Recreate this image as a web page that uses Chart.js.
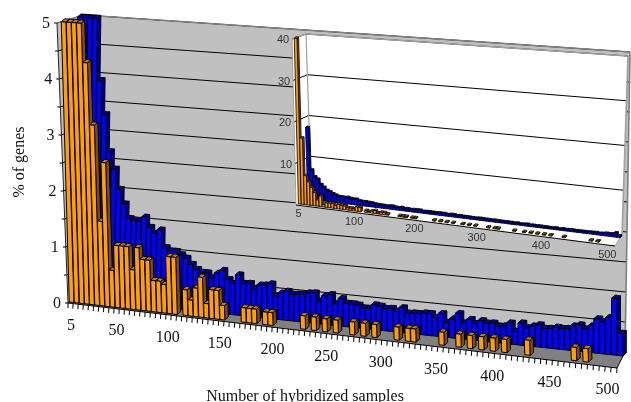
<!DOCTYPE html>
<html>
<head>
<meta charset="utf-8">
<style>
  html, body { margin: 0; padding: 0; background: #fff; }
  #wrap { position: relative; width: 631px; height: 402px; overflow: hidden; }
  canvas { position: absolute; left: 0; top: 0; }
</style>
<script src="https://cdn.jsdelivr.net/npm/chart.js@4"></script>
</head>
<body>
<div id="wrap">
  <canvas id="mainChart" width="631" height="402"></canvas>
  <canvas id="insetChart" width="631" height="402"></canvas>
</div>
<script>
const categories = [5,10,15,20,25,30,35,40,45,50,55,60,65,70,75,80,85,90,95,100,
  105,110,115,120,125,130,135,140,145,150,155,160,165,170,175,180,185,190,195,200,
  205,210,215,220,225,230,235,240,245,250,255,260,265,270,275,280,285,290,295,300,
  305,310,315,320,325,330,335,340,345,350,355,360,365,370,375,380,385,390,395,400,
  405,410,415,420,425,430,435,440,445,450,455,460,465,470,475,480,485,490,495,500];

const orange = [40,16,7,5.6,4.3,3.2,1.5,2.55,0.65,1.1,1.1,1.1,0.7,1.1,0.9,0.9,0.55,0.55,0.5,1.0,
  1.0,0,0.45,0.28,0.5,0.7,0.25,0.5,0.5,0.25,0,0,0,0.25,0.25,0.25,0,0.22,0.22,0,
  0,0,0,0,0.23,0,0.23,0,0.22,0,0.22,0,0,0.22,0,0.22,0,0.22,0,0,
  0,0.22,0,0.22,0.22,0,0,0,0,0.22,0,0,0.22,0,0.22,0,0.22,0,0.22,0,
  0.22,0,0,0,0.25,0,0,0,0,0,0,0,0.22,0,0.22,0,0,0,0,0];

const blue = [17.5,7.2,5.6,5.1,3.9,3.3,2.65,2.35,2.0,1.75,1.5,1.47,1.47,1.55,1.38,1.28,1.35,1.05,1.0,1.0,
  0.95,0.9,0.8,0.72,0.68,0.68,0.6,0.69,0.75,0.6,0.54,0.7,0.56,0.57,0.48,0.56,0.57,0.6,0.4,0.46,
  0.5,0.46,0.47,0.48,0.51,0.52,0.39,0.49,0.52,0.37,0.47,0.4,0.4,0.39,0.35,0.35,0.42,0.41,0.38,0.39,
  0.35,0.42,0.34,0.35,0.35,0.37,0.37,0.31,0.39,0.25,0.32,0.42,0.27,0.34,0.28,0.34,0.31,0.32,0.28,0.29,
  0.35,0.22,0.37,0.3,0.34,0.37,0.32,0.33,0.36,0.35,0.36,0.41,0.44,0.38,0.44,0.57,0.53,0.61,0.94,0.37];

const mainYLabels = [0,1,2,3,4,5];
const mainXLabels = [5,50,100,150,200,250,300,350,400,450,500];
const insetYLabels = [10,20,30,40];
const insetXLabels = [5,100,200,300,400,500];

// corners of the 3d box on screen
const mainBox = {
  fbl:[68,303], fbr:[617,368], ftl:[57,23], ftr:[606,62],
  bbl:[75,296], bbr:[625,352], btl:[84,15], btr:[630,52],
  wall:'#c0c0c0', side:'#c0c0c0', floor:'#808080', edge:'#808080',
  font:'16px "Liberation Serif"', textColor:'#111',
  xLab:[0.5,-7,22.5], yLab:[-11,1], ticks:true,
  barDepth:[3.5,-3], lineWidth:1
};
const insetBox = {
  fbl:[296,205], fbr:[615,246], ftl:[292,39], ftr:[620,66],
  bbl:[311.5,197], bbr:[622,235], btl:[306,34], btr:[628,56],
  wall:'#fff', side:'#fff', floor:'#fff', edge:'#a0a0a0',
  font:'11px "Liberation Sans"', textColor:'#333',
  xLab:[1,-7,9], yLab:[-9,1], ticks:false,
  barDepth:[1.6,-1.4], lineWidth:0.8
};

const perspective = 1.08;
const orangeDepth = 0.15;
const blueDepth = 0.75;

function mix(a, b, t) { return [a[0] + (b[0]-a[0])*t, a[1] + (b[1]-a[1])*t]; }

function project(box, u, h, d) {
  const t = u / (perspective - (perspective-1)*u);
  const front = mix(mix(box.fbl, box.fbr, t), mix(box.ftl, box.ftr, t), h);
  const back = mix(mix(box.bbl, box.bbr, t), mix(box.btl, box.btr, t), h);
  return mix(front, back, d);
}

function poly(ctx, pts, fill, stroke, lw) {
  ctx.beginPath();
  pts.forEach((p, i) => i ? ctx.lineTo(p[0], p[1]) : ctx.moveTo(p[0], p[1]));
  ctx.closePath();
  if (fill) { ctx.fillStyle = fill; ctx.fill(); }
  if (stroke) { ctx.strokeStyle = stroke; ctx.lineWidth = lw || 1; ctx.stroke(); }
}

function line(ctx, a, b, color, lw) {
  ctx.beginPath();
  ctx.moveTo(a[0], a[1]);
  ctx.lineTo(b[0], b[1]);
  ctx.strokeStyle = color;
  ctx.lineWidth = lw || 1;
  ctx.stroke();
}

const box3d = {
  id: 'box3d',
  beforeDatasetsDraw(chart, args, opts) {
    const ctx = chart.ctx, box = opts.box, yScale = chart.scales.y, xScale = chart.scales.x;
    const area = chart.chartArea;
    const level = v => (area.bottom - yScale.getPixelForValue(v)) / area.height;
    const pos = px => (px - area.left) / area.width;
    ctx.save();
    poly(ctx, [box.ftl, box.btl, box.bbl, box.fbl], box.side);
    poly(ctx, [box.btl, box.btr, box.bbr, box.bbl], box.wall);
    poly(ctx, [box.fbl, box.fbr, box.bbr, box.bbl], box.floor);

    yScale.ticks.forEach(tick => {
      const h = level(tick.value);
      if (h > 0.001) {
        line(ctx, project(box, 0, h, 0), project(box, 0, h, 1), '#000');
        line(ctx, project(box, 0, h, 1), project(box, 1, h, 1), '#000');
      }
    });

    line(ctx, box.btl, box.btr, box.edge, 1.6);
    line(ctx, box.btr, box.bbr, box.edge, 1.6);
    line(ctx, box.ftl, box.btl, box.edge, 1.6);
    line(ctx, box.btl, box.bbl, box.edge, 1.2);
    line(ctx, box.fbr, box.bbr, box.ticks ? '#000' : box.edge, 1);
    line(ctx, box.ftl, box.fbl, box.ticks ? '#222' : box.edge, 1);
    line(ctx, box.fbl, box.bbl, box.ticks ? '#000' : box.edge, 1);
    line(ctx, box.fbl, box.fbr, '#000', 1);

    if (box.ticks) {
      const half = (xScale.getPixelForValue(1) - xScale.getPixelForValue(0)) / 2;
      categories.forEach((c, i) => {
        const p = project(box, pos(xScale.getPixelForValue(i) + half), 0, 0);
        line(ctx, p, [p[0] - 0.3, p[1] + 5], '#000');
      });
      line(ctx, box.fbl, [box.fbl[0], box.fbl[1] + 5], '#000');
      yScale.ticks.forEach(tick => {
        const p = project(box, 0, level(tick.value), 0);
        line(ctx, p, [p[0] - 3, p[1]], '#000');
      });
    }

    ctx.font = box.font;
    ctx.fillStyle = box.textColor;
    ctx.textAlign = 'center';
    ctx.textBaseline = 'middle';
    opts.yLabels.forEach(v => {
      const p = project(box, 0, level(v), 0);
      ctx.fillText(String(v), p[0] + box.yLab[0], p[1] + box.yLab[1]);
    });
    opts.xLabels.forEach(v => {
      const u = pos(xScale.getPixelForValue(categories.indexOf(v)));
      const p = project(box, u, 0, 0);
      ctx.fillText(String(v), p[0] + box.xLab[0] + box.xLab[1]*u, p[1] + box.xLab[2]);
    });
    ctx.restore();
  },
  // bars: read x, y, base and width from the bar elements, then draw a prism
  beforeDatasetDraw(chart, args, opts) {
    const ctx = chart.ctx, box = opts.box, area = chart.chartArea;
    const ds = chart.data.datasets[args.index];
    const dx = box.barDepth[0], dy = box.barDepth[1];
    const back = p => [p[0] + dx, p[1] + dy];
    ctx.save();
    ctx.lineJoin = 'round';
    args.meta.data.forEach(bar => {
      const props = bar.getProps(['x', 'y', 'base', 'width'], true);
      if (props.base - props.y < 0.01) return;
      const ul = (props.x - props.width/2 - area.left) / area.width;
      const ur = (props.x + props.width/2 - area.left) / area.width;
      const hTop = (area.bottom - Math.max(props.y, area.top)) / area.height;
      const bl = project(box, ul, 0, ds.depth), br = project(box, ur, 0, ds.depth);
      const tl = project(box, ul, hTop, ds.depth), tr = project(box, ur, hTop, ds.depth);
      poly(ctx, [br, back(br), back(tr), tr], ds.sideColor, '#000', box.lineWidth);
      poly(ctx, [tl, tr, back(tr), back(tl)], ds.topColor, '#000', box.lineWidth);
      poly(ctx, [bl, br, tr, tl], ds.backgroundColor, '#000', box.lineWidth);
    });
    ctx.restore();
    return false;
  }
};

function buildDatasets() {
  return [
    { label: 'orange', data: orange, backgroundColor: '#ffa000', topColor: '#c98000', sideColor: '#805000', depth: orangeDepth, grouped: false, barPercentage: 0.92, categoryPercentage: 1 },
    { label: 'blue', data: blue, backgroundColor: '#0000ff', topColor: '#0000b0', sideColor: '#000080', depth: blueDepth, grouped: false, barPercentage: 0.92, categoryPercentage: 1 }
  ];
}

function buildOptions(box, yMax, yStep, yLabels, xLabels, titles) {
  return {
    responsive: false,
    animation: false,
    devicePixelRatio: 1,
    layout: { padding: titles ? { left: 12, right: 57, top: 21, bottom: -3 } : 0 },
    plugins: {
      legend: { display: false },
      tooltip: { enabled: false },
      box3d: { box: box, yLabels: yLabels, xLabels: xLabels }
    },
    scales: {
      x: {
        type: 'category',
        grid: { display: false },
        border: { display: false },
        ticks: { display: false },
        title: titles ? { display: true, text: 'Number of hybridized samples', color: '#111',
          font: { family: 'Liberation Serif', size: 16, lineHeight: 1 }, padding: { top: 78, bottom: 0 } } : { display: false }
      },
      y: {
        min: 0,
        max: yMax,
        grid: { display: false },
        border: { display: false },
        ticks: { display: false, stepSize: yStep },
        title: titles ? { display: true, text: '% of genes', color: '#111',
          font: { family: 'Liberation Serif', size: 16, lineHeight: 1 }, padding: { top: 0, bottom: 0 } } : { display: false }
      }
    }
  };
}

new Chart(document.getElementById('mainChart'), {
  type: 'bar',
  data: { labels: categories, datasets: buildDatasets() },
  options: buildOptions(mainBox, 5, 0.5, mainYLabels, mainXLabels, true),
  plugins: [box3d]
});

new Chart(document.getElementById('insetChart'), {
  type: 'bar',
  data: { labels: categories, datasets: buildDatasets() },
  options: buildOptions(insetBox, 40, 10, insetYLabels, insetXLabels, false),
  plugins: [box3d]
});
</script>
</body>
</html>
